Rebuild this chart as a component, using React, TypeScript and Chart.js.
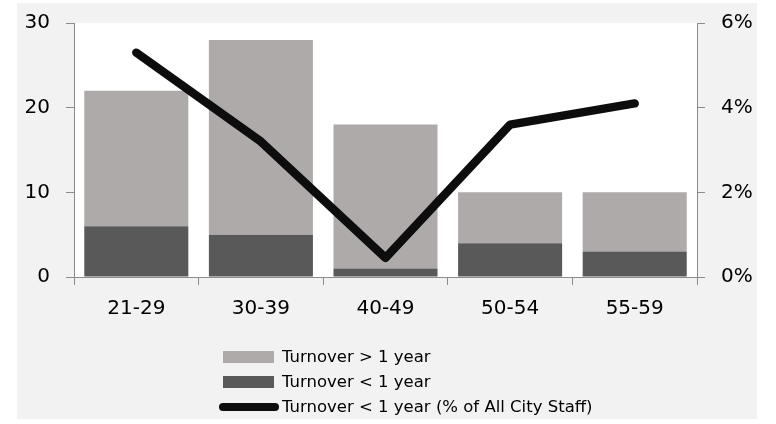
import React, { useEffect, useRef } from "react";
import { Chart, registerables } from "chart.js";

Chart.register(...registerables);

const ageBands = ["21-29", "30-39", "40-49", "50-54", "55-59"];
const turnoverUnderOneYear = [6, 5, 1, 4, 3];
const turnoverOverOneYear = [16, 23, 17, 6, 7];
const underOneYearPctOfStaff = [0.053, 0.032, 0.0045, 0.036, 0.041];

const LABEL_OVER = "Turnover > 1 year";
const LABEL_UNDER = "Turnover < 1 year";
const LABEL_PCT = "Turnover < 1 year (% of All City Staff)";

const LIGHT = "#aeaaaa";
const DARK = "#595959";
const LINE = "#0d0d0d";
const AXIS = "#8c8c8c";
const FONT = "'DejaVu Sans', sans-serif";

// White plot area on the grey chart background
const plotBackground = {
  id: "plotBackground",
  beforeDraw(chart: any) {
    const { ctx, chartArea } = chart;
    ctx.save();
    ctx.fillStyle = "#ffffff";
    ctx.fillRect(chartArea.left, chartArea.top, chartArea.right - chartArea.left, chartArea.bottom - chartArea.top);
    ctx.restore();
  },
};

// Stacked legend under the axis, one entry per row
const stackedLegend = {
  id: "stackedLegend",
  afterDraw(chart: any) {
    const { ctx, chartArea } = chart;
    const entries = [
      { label: LABEL_OVER, kind: "box", color: LIGHT },
      { label: LABEL_UNDER, kind: "box", color: DARK },
      { label: LABEL_PCT, kind: "line", color: LINE },
    ];
    const x0 = chartArea.left + 145;
    const y0 = chartArea.bottom + 80;
    ctx.save();
    ctx.font = `16.5px ${FONT}`;
    ctx.textBaseline = "middle";
    ctx.textAlign = "left";
    entries.forEach((e, i) => {
      const y = y0 + i * 25;
      if (e.kind === "box") {
        ctx.fillStyle = e.color;
        ctx.fillRect(x0 + 4, y - 6, 51, 12);
      } else {
        ctx.strokeStyle = e.color;
        ctx.lineWidth = 8;
        ctx.lineCap = "round";
        ctx.beginPath();
        ctx.moveTo(x0 + 4, y);
        ctx.lineTo(x0 + 56, y);
        ctx.stroke();
      }
      ctx.fillStyle = "#000000";
      ctx.fillText(e.label, x0 + 63, y + 1);
    });
    ctx.restore();
  },
};

export default function App() {
  const canvasRef = useRef<HTMLCanvasElement | null>(null);

  useEffect(() => {
    document.body.style.margin = "0";
    const canvas = canvasRef.current;
    if (!canvas) return;
    const chart = new Chart(canvas, {
      type: "bar",
      data: {
        labels: ageBands,
        datasets: [
          {
            type: "line",
            label: LABEL_PCT,
            data: underOneYearPctOfStaff,
            yAxisID: "y1",
            borderColor: LINE,
            backgroundColor: LINE,
            borderWidth: 8.5,
            pointRadius: 0,
            borderCapStyle: "round",
            borderJoinStyle: "round",
            tension: 0,
            order: 0,
          } as any,
          {
            label: LABEL_UNDER,
            data: turnoverUnderOneYear,
            backgroundColor: DARK,
            yAxisID: "y",
            stack: "s",
            order: 1,
            barPercentage: 0.835,
            categoryPercentage: 1,
          },
          {
            label: LABEL_OVER,
            data: turnoverOverOneYear,
            backgroundColor: LIGHT,
            yAxisID: "y",
            stack: "s",
            order: 2,
            barPercentage: 0.835,
            categoryPercentage: 1,
          },
        ],
      },
      options: {
        animation: false,
        responsive: false,
        maintainAspectRatio: false,
        layout: { padding: { top: 12, left: 0, right: 0, bottom: 0 } },
        plugins: {
          legend: { display: false },
          tooltip: { enabled: false },
        },
        scales: {
          x: {
            stacked: true,
            grid: {
              offset: true,
              drawOnChartArea: false,
              drawTicks: true,
              tickLength: 8,
              color: AXIS,
            },
            border: { color: AXIS, width: 1 },
            ticks: { color: "#000", font: { family: FONT, size: 20 }, padding: 12 },
            afterFit(scale: any) {
              scale.height = 142;
            },
          },
          y: {
            stacked: true,
            position: "left",
            min: 0,
            max: 30,
            ticks: { stepSize: 10, color: "#000", font: { family: FONT, size: 20 }, padding: 16 },
            grid: { drawOnChartArea: false, drawTicks: true, tickLength: 8, color: AXIS },
            border: { color: AXIS, width: 1 },
            afterFit(scale: any) {
              scale.width = 57;
            },
          },
          y1: {
            position: "right",
            min: 0,
            max: 0.06,
            ticks: {
              stepSize: 0.02,
              color: "#000",
              font: { family: FONT, size: 20 },
              padding: 16,
              callback: (v: any) => `${Math.round(Number(v) * 100)}%`,
            },
            grid: { drawOnChartArea: false, drawTicks: true, tickLength: 8, color: AXIS },
            border: { color: AXIS, width: 1 },
            afterFit(scale: any) {
              scale.width = 60;
            },
          },
        },
      },
      plugins: [plotBackground, stackedLegend],
    });
    return () => chart.destroy();
  }, []);

  return (
    <div style={{ position: "relative", width: 776, height: 424, background: "#ffffff", overflow: "hidden" }}>
      <div style={{ position: "absolute", left: 17, top: 3, width: 740, height: 416, background: "#f2f2f2", overflow: "hidden" }}>
        <canvas
          ref={canvasRef}
          width={740}
          height={424}
          style={{ display: "block", position: "absolute", left: 0, top: -8 }}
        />
      </div>
    </div>
  );
}
